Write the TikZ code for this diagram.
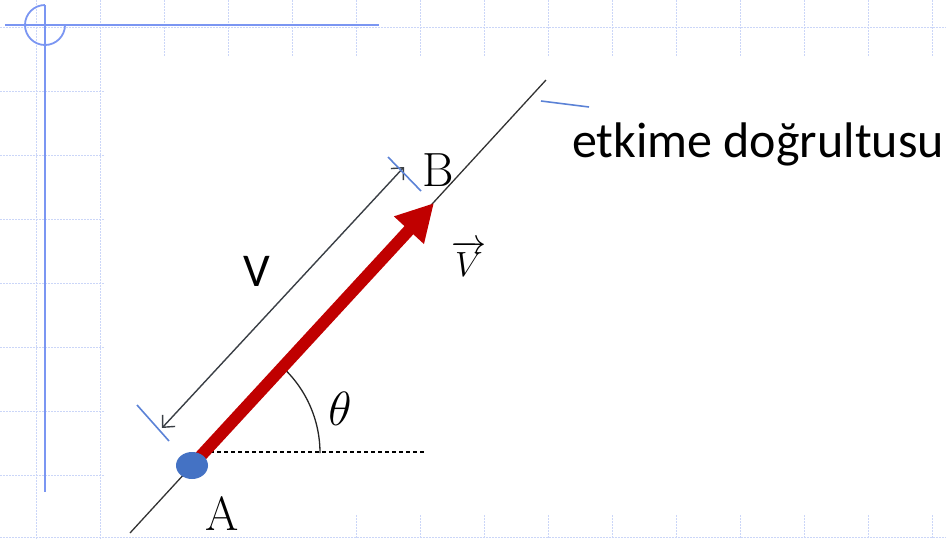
\documentclass[tikz,border=0pt]{standalone}
\usepackage{fix-cm}
\usepackage{fontspec}
\newfontfamily\calib{Carlito}
\usetikzlibrary{arrows.meta,shapes.geometric}
\definecolor{gridblue}{HTML}{CBD6F8}
\definecolor{deco}{HTML}{7B96F2}
\definecolor{tickblue}{HTML}{5B82D6}
\definecolor{ptblue}{HTML}{4472C4}
\definecolor{vred}{HTML}{C00000}
\definecolor{dimgray}{HTML}{3A3F45}
\tikzset{
  gridline/.style={gridblue, line width=1pt, dash pattern=on 1.5pt off 1.5pt},
  decoline/.style={deco, line width=1.8pt},
  tick/.style={tickblue, line width=1.6pt},
  lbl/.style={inner sep=0pt, outer sep=0pt},
}
\begin{document}
\begin{tikzpicture}[x=1pt,y=-1pt]
\useasboundingbox (0,0) rectangle (946,539);
% background grid (visible strips)
\foreach \x in {36,100,164,228,292,356,420,484,548,612,676,740,804,868,932}
  \draw[gridline] (\x,0) -- (\x,57);
\foreach \x in {36,100}
  \draw[gridline] (\x,57) -- (\x,539);
\foreach \x in {356,420,484,548,612,676,740,804,868,932}
  \draw[gridline] (\x,515) -- (\x,539);
\draw[gridline] (0,27) -- (946,27);
\foreach \y in {91,155,219,283,347,411,475}
  \draw[gridline] (0,\y) -- (105,\y);
\draw[gridline] (0,537) -- (946,537);
% decoration
\draw[decoline] (45,5) -- (45,492);
\draw[decoline] (5,25) -- (379,25);
\draw[decoline] (65,25) arc[start angle=0,end angle=270,radius=20];
% line of action
\coordinate (L1) at (130,533);
\coordinate (L2) at (546,80);
\draw[black!80, line width=1.3pt] (L1) -- (L2);
% angle
\coordinate (O) at (203,453);
\draw[black, line width=1.2pt, dash pattern=on 4pt off 3pt] (210,452) -- (425,452);
\draw[black!85, line width=1.3pt] (320,453) arc[start angle=0,end angle=-47.4,radius=117];
% vector
\coordinate (Ac) at (192,465.5);
\coordinate (Btip) at (434,203);
\draw[vred, line width=12pt, -{Triangle[length=37pt,width=38pt]}] (Ac) -- (Btip);
\node[ellipse, fill=ptblue, minimum width=32pt, minimum height=27pt, inner sep=0pt] (A) at (Ac) {};
% dimension
\coordinate (D1) at (404,167);
\coordinate (D2) at (162,428);
\draw[dimgray, line width=1.4pt, {Straight Barb[length=9pt,width=17pt]}-{Straight Barb[length=9pt,width=17pt]}] (D2) -- (D1);
\draw[tick] (388,157) -- (421,191);
\draw[tick] (137,405) -- (169,441);
\draw[tick] (541,101) -- (589,107);
% labels
\node[lbl, font=\fontsize{48}{50}\selectfont] (lB) at (438,170) {B};
\node[lbl, font=\fontsize{48}{50}\selectfont] (lA) at (222,514) {A};
\node[lbl, font=\calib\fontsize{47}{49}\selectfont] (lV) at (257,271) {V};
\node[lbl, font=\fontsize{48}{50}\selectfont] (lth) at (340,409) {$\theta$};
\node[lbl, anchor=base, font=\fontsize{35}{37}\selectfont] (lvec) at (469,276) {$\overrightarrow{V}$};
\node[lbl, anchor=base west, font=\calib\fontsize{50}{52}\selectfont] (ltxt) at (572,157) {etkime doğrultusu};
\end{tikzpicture}
\end{document}
